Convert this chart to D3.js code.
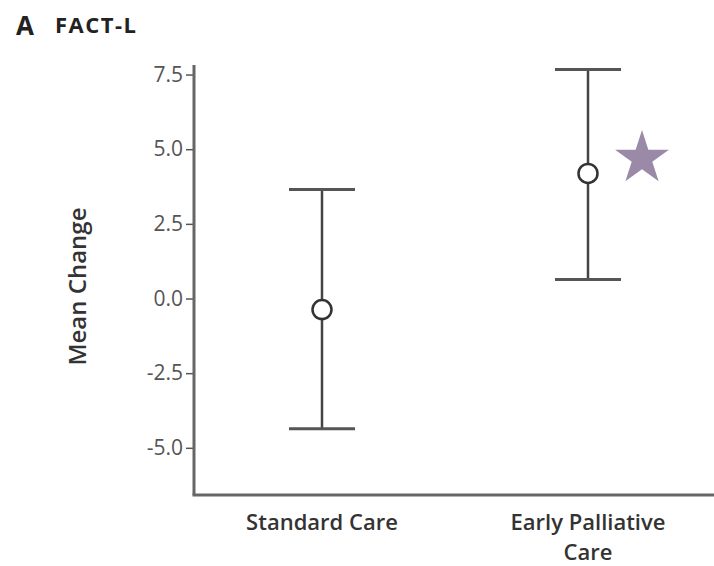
<!DOCTYPE html>
<html>
<head>
<meta charset="utf-8">
<script src="https://cdn.jsdelivr.net/npm/d3@7"></script>
<style>
  body { margin: 0; background: #fff; }
  text { font-family: "Open Sans", "DejaVu Sans", sans-serif; }
</style>
</head>
<body>
<svg id="chart" width="714" height="566"></svg>
<script>
// groups and their mean change with 95% CI
var groups = ["Standard Care", "Early Palliative Care"];
var means = [-0.37, 4.19];
var lower = [-4.36, 0.64];
var upper = [3.65, 7.67];
var yTicks = [-5.0, -2.5, 0.0, 2.5, 5.0, 7.5];
var significant = [false, true];

var svg = d3.select("#chart");
var plotLeft = 194, plotRight = 714, plotTop = 65, plotBottom = 495;

var x = d3.scalePoint()
    .domain(groups)
    .range([322, 588]);

var y = d3.scaleLinear()
    .domain([-6.58, 7.82])
    .range([plotBottom, plotTop]);

// title
svg.append("text")
    .attr("x", 16).attr("y", 35)
    .style("font-size", "26px").style("font-weight", "bold")
    .style("fill", "#222")
    .text("A");
svg.append("text")
    .attr("x", 55).attr("y", 33)
    .style("font-size", "22px").style("font-weight", "bold")
    .style("letter-spacing", "1.5px")
    .style("fill", "#222")
    .text("FACT-L");

// y axis
var yAxis = d3.axisLeft(y)
    .tickValues(yTicks)
    .tickFormat(function(d) { return d3.format(".1f")(d).replace("\u2212", "-"); })
    .tickSize(8)
    .tickSizeOuter(0);

var gy = svg.append("g")
    .attr("transform", "translate(" + plotLeft + ",0)")
    .call(yAxis);
gy.select(".domain").remove();
gy.selectAll("line").attr("stroke", "#555").attr("stroke-width", 1.5);
gy.selectAll("text")
    .style("font-size", "21px")
    .style("fill", "#555")
    .attr("x", -11);

svg.append("line")
    .attr("x1", plotLeft).attr("x2", plotLeft)
    .attr("y1", plotTop).attr("y2", plotBottom)
    .attr("stroke", "#666").attr("stroke-width", 3);
svg.append("line")
    .attr("x1", plotLeft - 1.5).attr("x2", plotRight)
    .attr("y1", plotBottom).attr("y2", plotBottom)
    .attr("stroke", "#666").attr("stroke-width", 3);

// y label
svg.append("text")
    .attr("transform", "translate(86," + y(0.4) + ") rotate(-90)")
    .attr("text-anchor", "middle")
    .style("font-size", "24px").style("font-weight", "600")
    .style("fill", "#333")
    .text("Mean Change");

// x labels
svg.append("text")
    .attr("x", x(groups[0])).attr("y", 530)
    .attr("text-anchor", "middle")
    .style("font-size", "22px").style("font-weight", "600").style("fill", "#333")
    .text("Standard Care");
svg.append("text")
    .attr("x", x(groups[1])).attr("y", 530)
    .attr("text-anchor", "middle")
    .style("font-size", "22px").style("font-weight", "600").style("fill", "#333")
    .text("Early Palliative");
svg.append("text")
    .attr("x", x(groups[1])).attr("y", 560)
    .attr("text-anchor", "middle")
    .style("font-size", "22px").style("font-weight", "600").style("fill", "#333")
    .text("Care");

// error bars
var capHalf = 33;
groups.forEach(function(g, i) {
    var cx = x(g);
    svg.append("line")
        .attr("x1", cx).attr("x2", cx)
        .attr("y1", y(upper[i])).attr("y2", y(lower[i]))
        .attr("stroke", "#444").attr("stroke-width", 2.5);
    [upper[i], lower[i]].forEach(function(v) {
        svg.append("line")
            .attr("x1", cx - capHalf).attr("x2", cx + capHalf)
            .attr("y1", y(v)).attr("y2", y(v))
            .attr("stroke", "#555").attr("stroke-width", 3);
    });
    svg.append("circle")
        .attr("cx", cx).attr("cy", y(means[i]))
        .attr("r", 9.5)
        .attr("fill", "#fff")
        .attr("stroke", "#333").attr("stroke-width", 2.5);
    if (significant[i]) {
        svg.append("path")
            .attr("d", d3.symbol().type(d3.symbolStar).size(900)())
            .attr("transform", "translate(" + (cx + 54) + "," + (y(means[i]) - 15) + ")")
            .attr("fill", "#9a8aa8");
    }
});
</script>
</body>
</html>
